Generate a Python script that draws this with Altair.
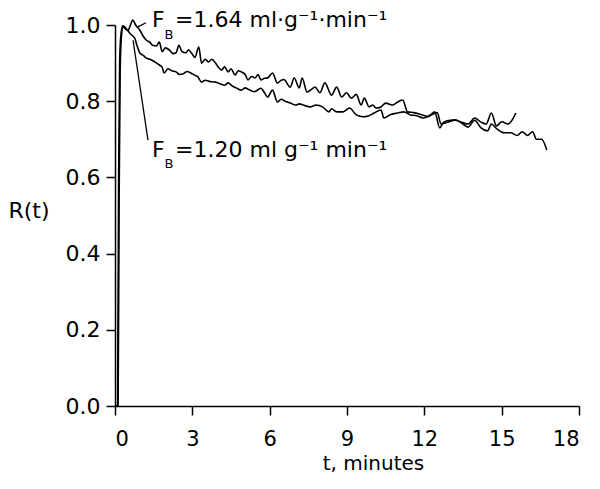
import altair as alt
import pandas as pd

# F_B = 1.64 curve (t in minutes, R(t))
t_164 = [0, 0.12, 0.16, 0.2, 0.25, 0.31, 0.4, 0.5, 0.6, 0.69, 0.8, 0.96, 1.1, 1.22, 1.35, 1.45, 1.6, 1.72,
         1.83, 1.95, 2.1, 2.25, 2.37, 2.48, 2.6, 2.75, 2.85, 2.98, 3.1, 3.25, 3.36, 3.5, 3.63, 3.75, 3.9,
         4.0, 4.13, 4.25, 4.39, 4.5, 4.66, 4.78, 4.9, 5.05, 5.16, 5.3, 5.43, 5.55, 5.66, 5.8, 5.92, 6.11,
         6.3, 6.45, 6.55, 6.8, 6.95, 7.15, 7.26, 7.45, 7.6, 7.76, 7.95, 8.14, 8.4, 8.6, 8.79, 8.98, 9.17,
         9.36, 9.55, 9.67, 9.86, 10.0, 10.13, 10.32, 10.5, 10.75, 10.97, 11.16, 11.35, 11.6, 11.92, 12.15,
         12.4, 12.6, 12.75, 13.0, 13.2, 13.5, 13.7, 13.95, 14.2, 14.45, 14.6, 14.8, 15.1, 15.35, 15.6,
         15.8, 16.0, 16.2, 16.35, 16.55, 16.75]
r_164 = [0, 0, 0.55, 0.88, 0.97, 0.995, 0.99, 0.985, 1.0, 1.013, 1.0, 0.987, 0.97, 0.96, 0.955, 0.947, 0.945,
         0.955, 0.93, 0.94, 0.935, 0.925, 0.927, 0.947, 0.93, 0.927, 0.935, 0.925, 0.915, 0.942, 0.90, 0.91,
         0.903, 0.91, 0.90, 0.89, 0.882, 0.89, 0.877, 0.885, 0.869, 0.88, 0.877, 0.87, 0.856, 0.865, 0.861,
         0.87, 0.856, 0.86, 0.861, 0.874, 0.848, 0.855, 0.857, 0.837, 0.861, 0.835, 0.861, 0.824, 0.83,
         0.837, 0.822, 0.848, 0.816, 0.837, 0.811, 0.822, 0.808, 0.818, 0.79, 0.808, 0.785, 0.79, 0.782,
         0.785, 0.795, 0.79, 0.798, 0.803, 0.772, 0.77, 0.764, 0.76, 0.772, 0.73, 0.745, 0.75, 0.751, 0.74,
         0.732, 0.75, 0.73, 0.722, 0.74, 0.728, 0.717, 0.717, 0.71, 0.72, 0.71, 0.72, 0.70, 0.70, 0.672]

# F_B = 1.20 curve
t_120 = [0, 0.1, 0.14, 0.18, 0.23, 0.3, 0.38, 0.5, 0.62, 0.76, 0.86, 0.96, 1.1, 1.22, 1.35, 1.5, 1.62, 1.72,
         1.82, 1.91, 2.05, 2.2, 2.37, 2.5, 2.65, 2.8, 2.94, 3.1, 3.2, 3.36, 3.5, 3.65, 3.9, 4.1, 4.25, 4.39,
         4.55, 4.7, 4.9, 5.05, 5.15, 5.4, 5.5, 5.66, 5.8, 5.92, 6.11, 6.3, 6.45, 6.6, 6.8, 7.0, 7.15, 7.3,
         7.57, 7.8, 8.05, 8.3, 8.4, 8.6, 8.85, 9.1, 9.36, 9.63, 9.85, 10.05, 10.32, 10.43, 10.7, 10.97,
         11.2, 11.46, 11.7, 11.96, 12.3, 12.5, 12.65, 12.9, 13.2, 13.45, 13.7, 13.95, 14.2, 14.4, 14.6,
         14.8, 15.0, 15.25, 15.4, 15.55]
r_120 = [0, 0, 0.6, 0.9, 0.975, 0.998, 0.995, 0.985, 0.975, 0.966, 0.945, 0.927, 0.92, 0.913, 0.91, 0.905,
         0.9, 0.895, 0.89, 0.874, 0.885, 0.88, 0.877, 0.87, 0.872, 0.878, 0.874, 0.868, 0.865, 0.85, 0.855,
         0.852, 0.85, 0.845, 0.842, 0.848, 0.84, 0.835, 0.829, 0.835, 0.832, 0.825, 0.828, 0.834, 0.822,
         0.811, 0.829, 0.798, 0.805, 0.80, 0.795, 0.79, 0.793, 0.79, 0.785, 0.79, 0.785, 0.772, 0.78, 0.772,
         0.772, 0.782, 0.764, 0.759, 0.762, 0.769, 0.777, 0.756, 0.765, 0.769, 0.772, 0.764, 0.762, 0.756,
         0.765, 0.77, 0.74, 0.745, 0.75, 0.745, 0.74, 0.756, 0.745, 0.74, 0.769, 0.735, 0.746, 0.74, 0.75,
         0.769]

# axis ticks
x_ticks = [0, 1.5, 3, 4.5, 6, 7.5, 9, 10.5, 12, 13.5, 15, 16.5, 18]
y_ticks = [0, 0.1, 0.2, 0.3, 0.4, 0.5, 0.6, 0.7, 0.8, 0.9, 1.0]

# annotations (anchor positions in data units)
ann_main = ["=1.64 ml·g⁻¹·min⁻¹", "=1.20 ml g⁻¹ min⁻¹"]
ann_F_t = [1.44, 1.44]
ann_B_t = [1.92, 1.92]
ann_main_t = [2.33, 2.33]
ann_R = [0.995, 0.654]
ann_B_R = [0.962, 0.624]

# leader lines
lead_t1 = [0.89, 0.70]
lead_r1 = [0.995, 0.96]
lead_t2 = [1.2, 1.28]
lead_r2 = [1.006, 0.698]

FONT = "DejaVu Sans"

df = pd.concat([
    pd.DataFrame({"t": t_164, "R": r_164, "series": "1.64"}),
    pd.DataFrame({"t": t_120, "R": r_120, "series": "1.20"}),
])

xscale = alt.Scale(domain=[0, 18], nice=False, zero=False)
yscale = alt.Scale(domain=[0, 1.0], nice=False)

lines = alt.Chart(df).mark_line(color="black", strokeWidth=1.6, interpolate="monotone").encode(
    x=alt.X("t:Q", scale=xscale, axis=alt.Axis(
        values=x_ticks, labelExpr="datum.value % 3 == 0 ? datum.label : ''", format="d",
        labelFontSize=21, labelPadding=13,
        title="t, minutes", titleX=258, titleY=57, titleBaseline="middle", titleAlign="center",
        titleFontSize=20)),
    y=alt.Y("R:Q", scale=yscale, axis=alt.Axis(
        values=y_ticks, format=".1f", labelFontSize=22,
        labelExpr="round(datum.value * 10) % 2 == 0 ? datum.label : ''",
        title="R(t)", titleAngle=0, titleX=-107, titleY=185, titleAlign="left",
        titleBaseline="middle", titleFontSize=22)),
    detail="series:N",
    order="t:Q",
)

ann_df = pd.DataFrame({"text": ann_main, "tF": ann_F_t, "tB": ann_B_t, "tm": ann_main_t,
                       "R": ann_R, "RB": ann_B_R})

txtF = alt.Chart(ann_df).mark_text(font=FONT, fontSize=22, align="left", baseline="alphabetic",
                                   color="black", text="F").encode(
    x=alt.X("tF:Q", scale=xscale), y=alt.Y("R:Q", scale=yscale))
txtB = alt.Chart(ann_df).mark_text(font=FONT, fontSize=13, align="left", baseline="alphabetic",
                                   color="black", text="B").encode(
    x=alt.X("tB:Q", scale=xscale), y=alt.Y("RB:Q", scale=yscale))
txtM = alt.Chart(ann_df).mark_text(font=FONT, fontSize=22, align="left", baseline="alphabetic",
                                   color="black").encode(
    x=alt.X("tm:Q", scale=xscale), y=alt.Y("R:Q", scale=yscale), text="text:N")

lead_df = pd.DataFrame({"t1": lead_t1, "r1": lead_r1, "t2": lead_t2, "r2": lead_r2})
leaders = alt.Chart(lead_df).mark_rule(color="black", strokeWidth=1.3).encode(
    x=alt.X("t1:Q", scale=xscale), y=alt.Y("r1:Q", scale=yscale),
    x2="t2:Q", y2="r2:Q")

chart = alt.layer(lines, leaders, txtF, txtB, txtM).properties(
    width=464, height=381,
    autosize=alt.AutoSizeParams(type="none"),
    padding={"left": 107, "top": 17, "right": 13, "bottom": 70},
).configure_view(stroke=None).configure_axis(
    grid=False, domainColor="black", domainWidth=1.5, tickColor="black", tickWidth=1.5,
    tickSize=9, labelFont=FONT, labelColor="black", labelPadding=6,
    titleFont=FONT, titleFontWeight="normal", titleColor="black",
)

chart.save("out.html", embed_options={"renderer": "svg", "actions": False})
